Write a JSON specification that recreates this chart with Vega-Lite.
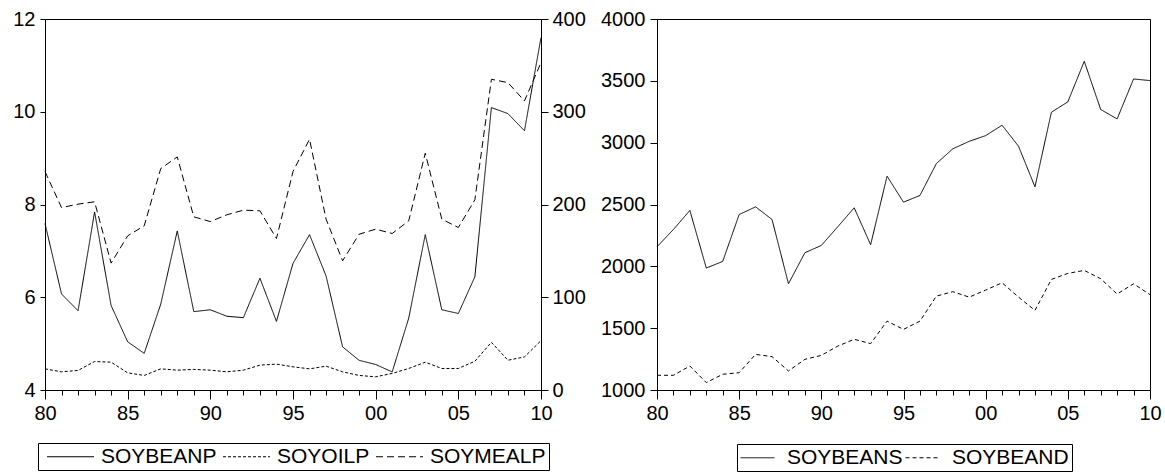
{
  "$schema": "https://vega.github.io/schema/vega-lite/v6.json",
  "padding": {"left": 12, "top": 8, "right": 0, "bottom": 0},
  "background": "white",
  "datasets": {
    "left": [
      {"year": 1980, "SOYBEANP": 7.59, "SOYOILP": 22.8, "SOYMEALP": 235.5},
      {"year": 1981, "SOYBEANP": 6.07, "SOYOILP": 19.6, "SOYMEALP": 196.7},
      {"year": 1982, "SOYBEANP": 5.71, "SOYOILP": 21.1, "SOYMEALP": 200.4},
      {"year": 1983, "SOYBEANP": 7.84, "SOYOILP": 30.7, "SOYMEALP": 202.9},
      {"year": 1984, "SOYBEANP": 5.82, "SOYOILP": 30.0, "SOYMEALP": 136.8},
      {"year": 1985, "SOYBEANP": 5.04, "SOYOILP": 18.5, "SOYMEALP": 166.2},
      {"year": 1986, "SOYBEANP": 4.79, "SOYOILP": 15.7, "SOYMEALP": 177.0},
      {"year": 1987, "SOYBEANP": 5.85, "SOYOILP": 22.8, "SOYMEALP": 238.7},
      {"year": 1988, "SOYBEANP": 7.43, "SOYOILP": 21.4, "SOYMEALP": 251.3},
      {"year": 1989, "SOYBEANP": 5.69, "SOYOILP": 22.2, "SOYMEALP": 186.7},
      {"year": 1990, "SOYBEANP": 5.73, "SOYOILP": 21.4, "SOYMEALP": 181.6},
      {"year": 1991, "SOYBEANP": 5.59, "SOYOILP": 19.6, "SOYMEALP": 188.9},
      {"year": 1992, "SOYBEANP": 5.56, "SOYOILP": 21.4, "SOYMEALP": 193.9},
      {"year": 1993, "SOYBEANP": 6.41, "SOYOILP": 26.8, "SOYMEALP": 193.2},
      {"year": 1994, "SOYBEANP": 5.48, "SOYOILP": 27.9, "SOYMEALP": 163.3},
      {"year": 1995, "SOYBEANP": 6.73, "SOYOILP": 25.0, "SOYMEALP": 235.5},
      {"year": 1996, "SOYBEANP": 7.35, "SOYOILP": 22.8, "SOYMEALP": 270.4},
      {"year": 1997, "SOYBEANP": 6.46, "SOYOILP": 25.7, "SOYMEALP": 184.2},
      {"year": 1998, "SOYBEANP": 4.93, "SOYOILP": 19.6, "SOYMEALP": 139.3},
      {"year": 1999, "SOYBEANP": 4.64, "SOYOILP": 15.7, "SOYMEALP": 168.0},
      {"year": 2000, "SOYBEANP": 4.55, "SOYOILP": 14.2, "SOYMEALP": 173.4},
      {"year": 2001, "SOYBEANP": 4.39, "SOYOILP": 17.9, "SOYMEALP": 168.7},
      {"year": 2002, "SOYBEANP": 5.55, "SOYOILP": 23.2, "SOYMEALP": 182.4},
      {"year": 2003, "SOYBEANP": 7.35, "SOYOILP": 30.0, "SOYMEALP": 255.3},
      {"year": 2004, "SOYBEANP": 5.73, "SOYOILP": 23.2, "SOYMEALP": 184.2},
      {"year": 2005, "SOYBEANP": 5.65, "SOYOILP": 23.2, "SOYMEALP": 175.2},
      {"year": 2006, "SOYBEANP": 6.44, "SOYOILP": 31.0, "SOYMEALP": 205.0},
      {"year": 2007, "SOYBEANP": 10.09, "SOYOILP": 51.4, "SOYMEALP": 335.0},
      {"year": 2008, "SOYBEANP": 9.96, "SOYOILP": 32.1, "SOYMEALP": 331.4},
      {"year": 2009, "SOYBEANP": 9.59, "SOYOILP": 35.7, "SOYMEALP": 311.7},
      {"year": 2010, "SOYBEANP": 11.60, "SOYOILP": 53.2, "SOYMEALP": 353.0}
    ],
    "right": [
      {"year": 1980, "SOYBEANS": 2158, "SOYBEAND": 1119},
      {"year": 1981, "SOYBEANS": 2298, "SOYBEAND": 1119},
      {"year": 1982, "SOYBEANS": 2452, "SOYBEAND": 1194},
      {"year": 1983, "SOYBEANS": 1986, "SOYBEAND": 1060},
      {"year": 1984, "SOYBEANS": 2040, "SOYBEAND": 1127},
      {"year": 1985, "SOYBEANS": 2419, "SOYBEAND": 1140},
      {"year": 1986, "SOYBEANS": 2481, "SOYBEAND": 1288},
      {"year": 1987, "SOYBEANS": 2379, "SOYBEAND": 1270},
      {"year": 1988, "SOYBEANS": 1859, "SOYBEAND": 1154},
      {"year": 1989, "SOYBEANS": 2110, "SOYBEAND": 1248},
      {"year": 1990, "SOYBEANS": 2169, "SOYBEAND": 1280},
      {"year": 1991, "SOYBEANS": 2320, "SOYBEAND": 1355},
      {"year": 1992, "SOYBEANS": 2473, "SOYBEAND": 1410},
      {"year": 1993, "SOYBEANS": 2175, "SOYBEAND": 1375},
      {"year": 1994, "SOYBEANS": 2729, "SOYBEAND": 1557},
      {"year": 1995, "SOYBEANS": 2519, "SOYBEAND": 1490},
      {"year": 1996, "SOYBEANS": 2573, "SOYBEAND": 1557},
      {"year": 1997, "SOYBEANS": 2831, "SOYBEAND": 1759},
      {"year": 1998, "SOYBEANS": 2950, "SOYBEAND": 1795},
      {"year": 1999, "SOYBEANS": 3011, "SOYBEAND": 1751},
      {"year": 2000, "SOYBEANS": 3057, "SOYBEAND": 1808},
      {"year": 2001, "SOYBEANS": 3141, "SOYBEAND": 1867},
      {"year": 2002, "SOYBEANS": 2971, "SOYBEAND": 1751},
      {"year": 2003, "SOYBEANS": 2643, "SOYBEAND": 1644},
      {"year": 2004, "SOYBEANS": 3246, "SOYBEAND": 1894},
      {"year": 2005, "SOYBEANS": 3330, "SOYBEAND": 1943},
      {"year": 2006, "SOYBEANS": 3658, "SOYBEAND": 1967},
      {"year": 2007, "SOYBEANS": 3268, "SOYBEAND": 1900},
      {"year": 2008, "SOYBEANS": 3192, "SOYBEAND": 1776},
      {"year": 2009, "SOYBEANS": 3515, "SOYBEAND": 1859},
      {"year": 2010, "SOYBEANS": 3502, "SOYBEAND": 1771}
    ]
  },
  "config": {
    "font": "Liberation Sans",
    "view": {"stroke": "black", "strokeWidth": 1},
    "axis": {"labelFont": "Liberation Sans", "labelFontSize": 20, "labelColor": "black", "domainColor": "black", "tickColor": "black", "grid": false, "title": null}
  },
  "resolve": {"scale": {"strokeDash": "independent"}, "legend": {"strokeDash": "independent"}},
  "spacing": 14,
  "hconcat": [
    {
      "width": 496,
      "height": 371,
      "data": {"name": "left"},
      "resolve": {"scale": {"y": "independent"}},
      "layer": [
        {
          "transform": [{"fold": ["SOYBEANP"], "as": ["series", "value"]}],
          "mark": {"type": "line", "color": "black", "strokeWidth": 1},
          "encoding": {
            "x": {"field": "year", "type": "quantitative", "scale": {"domain": [1980, 2010], "nice": false, "zero": false},
              "axis": {"values": [1980,1981,1982,1983,1984,1985,1986,1987,1988,1989,1990,1991,1992,1993,1994,1995,1996,1997,1998,1999,2000,2001,2002,2003,2004,2005,2006,2007,2008,2009,2010],
                "labelExpr": "datum.value % 5 === 0 ? format(datum.value % 100, '02d') : ''",
                "tickSize": {"condition": {"test": "datum.value % 5 === 0", "value": 9}, "value": 5},
                "labelFlush": false, "labelOverlap": false, "labelPadding": 4, "title": null}},
            "y": {"field": "value", "type": "quantitative", "scale": {"domain": [4, 12], "nice": false, "zero": false},
              "axis": {"orient": "left", "values": [4, 6, 8, 10, 12], "format": "d", "tickSize": 5, "labelPadding": 5, "title": null}},
            "strokeDash": {"field": "series", "type": "nominal",
              "scale": {"domain": ["SOYBEANP", "SOYOILP", "SOYMEALP"], "range": [[1, 0], [3, 2], [7, 4]]},
              "legend": {"orient": "none", "legendX": -7, "legendY": 424, "direction": "horizontal", "title": null,
                "symbolType": "M-4,0H4", "symbolSize": 138, "symbolStrokeWidth": 1, "symbolStrokeColor": "black",
                "labelFontSize": 21, "labelFont": "Liberation Sans", "labelColor": "black", "labelLimit": 300,
                "strokeColor": "black", "padding": 3, "columnPadding": 0, "labelOffset": 20, "symbolOffset": 19}}
          }
        },
        {
          "transform": [{"fold": ["SOYOILP", "SOYMEALP"], "as": ["series", "value"]}],
          "mark": {"type": "line", "color": "black", "strokeWidth": 1},
          "encoding": {
            "x": {"field": "year", "type": "quantitative", "scale": {"domain": [1980, 2010], "nice": false, "zero": false},
              "axis": {"values": [1980,1981,1982,1983,1984,1985,1986,1987,1988,1989,1990,1991,1992,1993,1994,1995,1996,1997,1998,1999,2000,2001,2002,2003,2004,2005,2006,2007,2008,2009,2010],
                "labelExpr": "datum.value % 5 === 0 ? format(datum.value % 100, '02d') : ''",
                "tickSize": {"condition": {"test": "datum.value % 5 === 0", "value": 9}, "value": 5},
                "labelFlush": false, "labelOverlap": false, "labelPadding": 4, "title": null}},
            "y": {"field": "value", "type": "quantitative", "scale": {"domain": [0, 400], "nice": false},
              "axis": {"orient": "right", "values": [0, 100, 200, 300, 400], "format": "d", "tickSize": 7, "labelPadding": 4, "title": null}},
            "strokeDash": {"field": "series", "type": "nominal",
              "scale": {"domain": ["SOYBEANP", "SOYOILP", "SOYMEALP"], "range": [[1, 0], [3, 2], [7, 4]]},
              "legend": {"orient": "none", "legendX": -7, "legendY": 424, "direction": "horizontal", "title": null,
                "symbolType": "M-4,0H4", "symbolSize": 138, "symbolStrokeWidth": 1, "symbolStrokeColor": "black",
                "labelFontSize": 21, "labelFont": "Liberation Sans", "labelColor": "black", "labelLimit": 300,
                "strokeColor": "black", "padding": 3, "columnPadding": 0, "labelOffset": 20, "symbolOffset": 19}}
          }
        }
      ]
    },
    {
      "width": 493,
      "height": 371,
      "data": {"name": "right"},
      "transform": [{"fold": ["SOYBEANS", "SOYBEAND"], "as": ["series", "value"]}],
      "mark": {"type": "line", "color": "black", "strokeWidth": 1},
      "encoding": {
        "x": {"field": "year", "type": "quantitative", "scale": {"domain": [1980, 2010], "nice": false, "zero": false},
          "axis": {"values": [1980,1981,1982,1983,1984,1985,1986,1987,1988,1989,1990,1991,1992,1993,1994,1995,1996,1997,1998,1999,2000,2001,2002,2003,2004,2005,2006,2007,2008,2009,2010],
            "labelExpr": "datum.value % 5 === 0 ? format(datum.value % 100, '02d') : ''",
            "tickSize": {"condition": {"test": "datum.value % 5 === 0", "value": 9}, "value": 5},
            "labelFlush": false, "labelOverlap": false, "labelPadding": 4, "title": null}},
        "y": {"field": "value", "type": "quantitative", "scale": {"domain": [1000, 4000], "nice": false, "zero": false},
          "axis": {"orient": "left", "values": [1000, 1500, 2000, 2500, 3000, 3500, 4000], "format": "d", "tickSize": 7, "labelPadding": 5, "title": null}},
        "strokeDash": {"field": "series", "type": "nominal",
          "scale": {"domain": ["SOYBEANS", "SOYBEAND"], "range": [[1, 0], [4, 3]]},
          "legend": {"orient": "none", "legendX": 80, "legendY": 425, "direction": "horizontal", "title": null,
            "symbolType": "M-4,0H4", "symbolSize": 72, "symbolStrokeWidth": 1, "symbolStrokeColor": "black",
            "labelFontSize": 21, "labelFont": "Liberation Sans", "labelColor": "black", "labelLimit": 300,
            "strokeColor": "black", "padding": 3, "columnPadding": 0, "labelOffset": 19, "symbolOffset": 7}}
      }
    }
  ]
}
